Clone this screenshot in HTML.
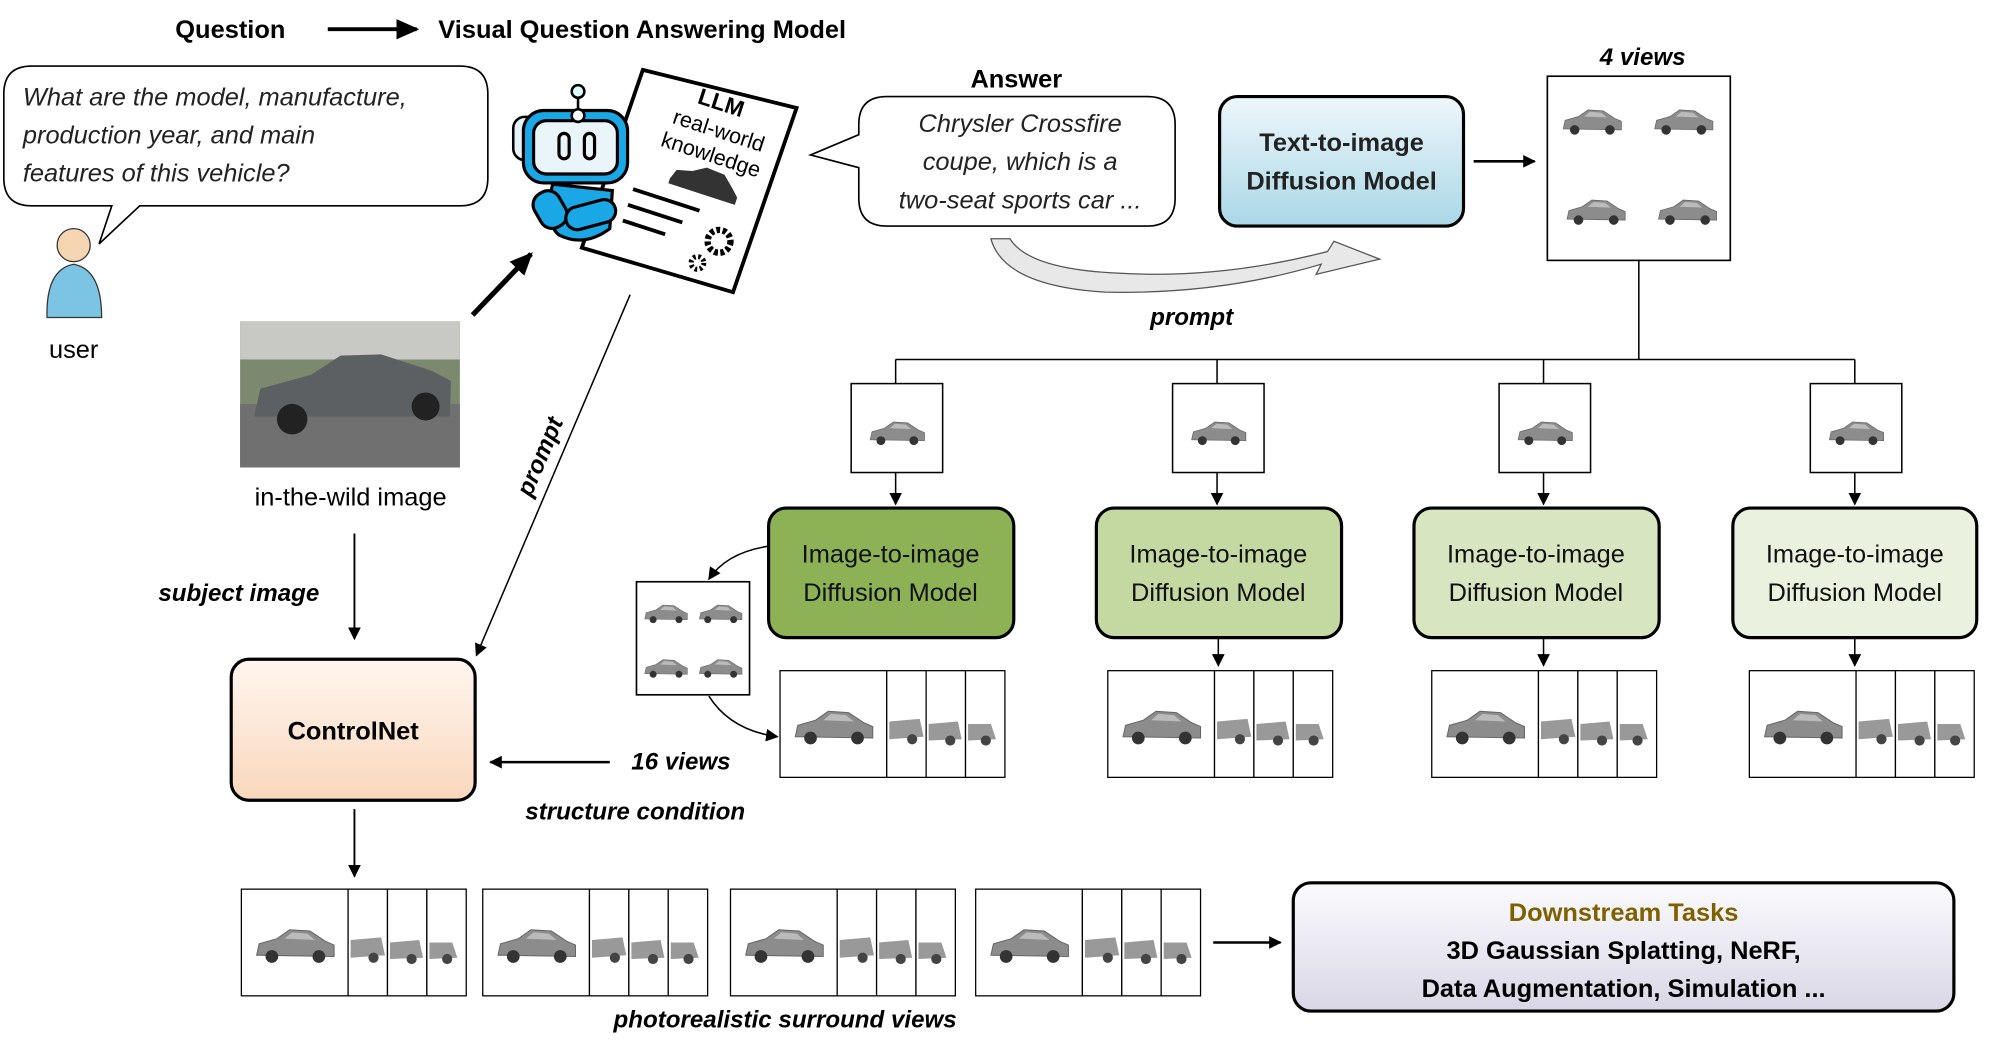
<!DOCTYPE html>
<html><head><meta charset="utf-8"><style>
html,body{margin:0;padding:0;background:#fff;}
svg{display:block;}
text{font-family:"Liberation Sans",sans-serif;}
</style></head><body>
<svg width="1992" height="1053" viewBox="0 0 1568 829" preserveAspectRatio="none" xmlns="http://www.w3.org/2000/svg">
<defs>
<marker id="ah" markerWidth="10" markerHeight="10" refX="9" refY="5" orient="auto" markerUnits="userSpaceOnUse"><path d="M0,0 L10,5 L0,10 z" fill="#000"/></marker>
<marker id="ahb" markerWidth="18" markerHeight="16" refX="16" refY="8" orient="auto" markerUnits="userSpaceOnUse"><path d="M0,0 L18,8 L0,16 z" fill="#000"/></marker>
<linearGradient id="gblue" x1="0" y1="0" x2="0" y2="1"><stop offset="0" stop-color="#eef7fb"/><stop offset="1" stop-color="#a9d7e6"/></linearGradient>
<linearGradient id="gpeach" x1="0" y1="0" x2="0" y2="1"><stop offset="0" stop-color="#fff6ef"/><stop offset="1" stop-color="#f9d7bd"/></linearGradient>
<linearGradient id="ggray" x1="0" y1="0" x2="0" y2="1"><stop offset="0" stop-color="#fbfbfd"/><stop offset="1" stop-color="#d9d6e6"/></linearGradient>
<g id="car"><path d="M-30,6 L-28,-3 L-14,-7 L-4,-14 L12,-13 L24,-5 L31,-2 L31,7 Z" fill="#8c8c8c" stroke="#666" stroke-width="0.8"/><circle cx="-18" cy="7" r="5" fill="#333"/><circle cx="19" cy="7" r="5" fill="#333"/><path d="M-8,-7 L-2,-12 L10,-11 L16,-6 Z" fill="#bbb"/></g>
<g id="stk">
<rect x="0" y="0" width="84" height="84" fill="#fff" stroke="#000" stroke-width="1"/>
<use href="#car" x="42" y="46"/>
<rect x="84" y="0" width="31" height="84" fill="#fff" stroke="#000" stroke-width="1"/>
<path d="M86,40 L110,38 L113,52 L86,54Z" fill="#999"/><circle cx="104" cy="54" r="4" fill="#444"/>
<rect x="115" y="0" width="31" height="84" fill="#fff" stroke="#000" stroke-width="1"/>
<path d="M117,42 L140,40 L143,54 L117,55Z" fill="#999"/><circle cx="134" cy="55" r="4" fill="#444"/>
<rect x="146" y="0" width="31" height="84" fill="#fff" stroke="#000" stroke-width="1"/>
<path d="M148,42 L166,42 L170,54 L148,55Z" fill="#999"/><circle cx="162" cy="55" r="4" fill="#444"/>
</g>
<g id="v4"><rect x="0" y="0" width="72" height="70" fill="#fff" stroke="#000" stroke-width="1.2"/><g transform="translate(36,40) scale(0.7)"><use href="#car"/></g></g>
</defs>

<!-- top title -->
<text x="138" y="30" font-size="20" font-weight="bold">Question</text>
<line x1="258" y1="23" x2="328" y2="23" stroke="#000" stroke-width="3" marker-end="url(#ahb)"/>
<text x="345" y="30" font-size="20" font-weight="bold">Visual Question Answering Model</text>

<!-- question bubble -->
<path d="M25,52 H362 Q384,52 384,74 V140 Q384,162 362,162 H110 L78,192 L88,162 H25 Q3,162 3,140 V74 Q3,52 25,52 Z" fill="#fff" stroke="#000" stroke-width="1.3"/>
<text font-size="20" font-style="italic" fill="#222"><tspan x="18" y="83">What are the model, manufacture,</tspan><tspan x="18" y="113">production year, and main</tspan><tspan x="18" y="143">features of this vehicle?</tspan></text>

<!-- user -->
<circle cx="58" cy="193" r="13" fill="#f6d5b3" stroke="#333"/>
<path d="M37,250 Q36,212 58,208 Q80,212 80,250 Z" fill="#7cc4e3" stroke="#333"/>
<text x="58" y="282" font-size="20" text-anchor="middle">user</text>

<!-- car photo -->
<rect x="189" y="253" width="173" height="115" fill="#7b8a6e"/>
<rect x="189" y="253" width="173" height="30" fill="#c8c9c5"/>
<rect x="189" y="318" width="173" height="50" fill="#707070"/>
<path d="M200,328 L205,306 L245,295 L268,280 L300,279 L340,292 L355,300 L354,328 Z" fill="#5d6063"/>
<circle cx="230" cy="330" r="12" fill="#222"/><circle cx="335" cy="320" r="11" fill="#222"/>
<text x="276" y="398" font-size="20" text-anchor="middle">in-the-wild image</text>
<line x1="372" y1="248" x2="418" y2="200" stroke="#000" stroke-width="4" marker-end="url(#ahb)"/>

<!-- paper -->
<polygon points="506,55 627,85 577,230 458,195" fill="#fff" stroke="#000" stroke-width="3"/>
<g transform="rotate(18 555 120)">
<text x="555" y="85" font-size="18" font-weight="bold" text-anchor="middle" font-family="DejaVu Sans">LLM</text>
<text x="560" y="106" font-size="17" text-anchor="middle" font-family="DejaVu Sans">real-world</text>
<text x="560" y="126" font-size="17" text-anchor="middle" font-family="DejaVu Sans">knowledge</text>
<path d="M535,148 L538,140 L550,137 L560,131 L575,132 L585,141 L590,146 L590,152 L535,152 Z" fill="#333"/>
<line x1="510" y1="165" x2="565" y2="165" stroke="#000" stroke-width="3"/>
<line x1="510" y1="178" x2="555" y2="178" stroke="#000" stroke-width="3"/>
<line x1="510" y1="191" x2="545" y2="191" stroke="#000" stroke-width="3"/>
</g>
<circle cx="566" cy="190" r="9" fill="none" stroke="#000" stroke-width="5" stroke-dasharray="3 2"/>
<circle cx="549" cy="207" r="5" fill="none" stroke="#000" stroke-width="4" stroke-dasharray="2 2"/>
<!-- robot -->
<line x1="455" y1="72" x2="455" y2="90" stroke="#000" stroke-width="2"/>
<circle cx="455" cy="72" r="5" fill="#dff" stroke="#000" stroke-width="2"/>
<rect x="404" y="92" width="20" height="34" rx="9" fill="#e6f3f8" stroke="#000" stroke-width="2"/>
<rect x="412" y="87" width="82" height="57" rx="16" fill="#1aa7e6" stroke="#000" stroke-width="2.5"/>
<rect x="420" y="95" width="66" height="42" rx="10" fill="#eaf5fa" stroke="#000" stroke-width="2.5"/>
<circle cx="455" cy="91" r="5" fill="#fff" stroke="#000" stroke-width="2"/>
<rect x="440" y="105" width="8" height="20" rx="4" fill="none" stroke="#000" stroke-width="2.5"/>
<rect x="460" y="105" width="8" height="20" rx="4" fill="none" stroke="#000" stroke-width="2.5"/>
<path d="M435,145 Q428,175 440,185 Q460,195 480,180 L482,150 Z" fill="#1aa7e6" stroke="#000" stroke-width="2.5"/>
<rect x="422" y="150" width="22" height="30" rx="10" fill="#1aa7e6" stroke="#000" stroke-width="2.5" transform="rotate(-30 433 165)"/>
<rect x="445" y="160" width="40" height="18" rx="9" fill="#1aa7e6" stroke="#000" stroke-width="2.5" transform="rotate(-15 465 169)"/>
<line x1="496" y1="232" x2="375" y2="516" stroke="#000" stroke-width="1.2" marker-end="url(#ah)"/>
<text x="0" y="0" font-size="19" font-weight="bold" font-style="italic" transform="translate(418,392) rotate(-67)">prompt</text>

<!-- answer -->
<text x="800" y="69" font-size="20" font-weight="bold" text-anchor="middle">Answer</text>
<path d="M698,76 H903 Q925,76 925,98 V156 Q925,178 903,178 H698 Q676,178 676,156 V132 L638,122 L676,106 V98 Q676,76 698,76 Z" fill="#fff" stroke="#000" stroke-width="1.3"/>
<text font-size="20" font-style="italic" text-anchor="middle" fill="#222"><tspan x="803" y="104">Chrysler Crossfire</tspan><tspan x="803" y="134">coupe, which is a</tspan><tspan x="803" y="164">two-seat sports car ...</tspan></text>
<!-- curved hollow arrow -->
<path d="M780,188 Q790,225 870,230 Q960,232 1040,208 L1036,216 L1086,204 L1050,190 L1045,198 Q960,220 880,215 Q810,212 795,188 Z" fill="#e8e8e8" stroke="#555" stroke-width="1"/>
<text x="938" y="256" font-size="19" font-weight="bold" font-style="italic" text-anchor="middle">prompt</text>

<!-- T2I -->
<rect x="960" y="76" width="192" height="102" rx="14" fill="url(#gblue)" stroke="#000" stroke-width="2.5"/>
<text font-size="20" font-weight="bold" text-anchor="middle" fill="#222"><tspan x="1056" y="119">Text-to-image</tspan><tspan x="1056" y="149">Diffusion Model</tspan></text>
<line x1="1160" y1="127" x2="1208" y2="127" stroke="#000" stroke-width="2" marker-end="url(#ah)"/>
<text x="1293" y="51" font-size="19" font-weight="bold" font-style="italic" text-anchor="middle">4 views</text>
<rect x="1218" y="60" width="144" height="145" fill="#fff" stroke="#000" stroke-width="1.3"/>
<g transform="translate(1253,97) scale(0.75)"><use href="#car"/></g>
<g transform="translate(1325,97) scale(0.75)"><use href="#car"/></g>
<g transform="translate(1256,168) scale(0.75)"><use href="#car"/></g>
<g transform="translate(1328,168) scale(0.75)"><use href="#car"/></g>

<!-- tree -->
<line x1="1290" y1="205" x2="1290" y2="283" stroke="#000" stroke-width="1.2"/>
<line x1="705" y1="283" x2="1460" y2="283" stroke="#000" stroke-width="1.2"/>
<line x1="705" y1="283" x2="705" y2="302" stroke="#000" stroke-width="1.2"/>
<line x1="958" y1="283" x2="958" y2="302" stroke="#000" stroke-width="1.2"/>
<line x1="1215" y1="283" x2="1215" y2="302" stroke="#000" stroke-width="1.2"/>
<line x1="1460" y1="283" x2="1460" y2="302" stroke="#000" stroke-width="1.2"/>
<use href="#v4" x="670" y="302"/><use href="#v4" x="923" y="302"/><use href="#v4" x="1180" y="302"/><use href="#v4" x="1425" y="302"/>
<line x1="705" y1="372" x2="705" y2="397" stroke="#000" stroke-width="1.2" marker-end="url(#ah)"/>
<line x1="958" y1="372" x2="958" y2="397" stroke="#000" stroke-width="1.2" marker-end="url(#ah)"/>
<line x1="1215" y1="372" x2="1215" y2="397" stroke="#000" stroke-width="1.2" marker-end="url(#ah)"/>
<line x1="1460" y1="372" x2="1460" y2="397" stroke="#000" stroke-width="1.2" marker-end="url(#ah)"/>

<!-- I2I boxes -->
<rect x="605" y="400" width="193" height="102" rx="14" fill="#8db255" stroke="#000" stroke-width="2.5"/>
<rect x="863" y="400" width="193" height="102" rx="14" fill="#c4d9a2" stroke="#000" stroke-width="2.5"/>
<rect x="1113" y="400" width="193" height="102" rx="14" fill="#d7e5c0" stroke="#000" stroke-width="2.5"/>
<rect x="1364" y="400" width="192" height="102" rx="14" fill="#ebf1df" stroke="#000" stroke-width="2.5"/>
<g font-size="20" text-anchor="middle" fill="#111">
<text x="701" y="443">Image-to-image</text><text x="701" y="473">Diffusion Model</text>
<text x="959" y="443">Image-to-image</text><text x="959" y="473">Diffusion Model</text>
<text x="1209" y="443">Image-to-image</text><text x="1209" y="473">Diffusion Model</text>
<text x="1460" y="443">Image-to-image</text><text x="1460" y="473">Diffusion Model</text>
</g>
<line x1="959" y1="502" x2="959" y2="524" stroke="#000" stroke-width="1.2" marker-end="url(#ah)"/>
<line x1="1215" y1="502" x2="1215" y2="524" stroke="#000" stroke-width="1.2" marker-end="url(#ah)"/>
<line x1="1460" y1="502" x2="1460" y2="524" stroke="#000" stroke-width="1.2" marker-end="url(#ah)"/>
<use href="#stk" x="614" y="528"/>
<use href="#stk" x="872" y="528"/>
<use href="#stk" x="1127" y="528"/>
<use href="#stk" x="1377" y="528"/>

<!-- left 4view -->
<rect x="501" y="458" width="89" height="89" fill="#fff" stroke="#000" stroke-width="1.3"/>
<g transform="translate(524,484) scale(0.55)"><use href="#car"/></g>
<g transform="translate(567,484) scale(0.55)"><use href="#car"/></g>
<g transform="translate(524,527) scale(0.55)"><use href="#car"/></g>
<g transform="translate(567,527) scale(0.55)"><use href="#car"/></g>
<path d="M605,430 Q572,435 558,456" fill="none" stroke="#000" stroke-width="1.2" marker-end="url(#ah)"/>
<path d="M558,548 Q575,575 612,580" fill="none" stroke="#000" stroke-width="1.2" marker-end="url(#ah)"/>

<!-- controlnet -->
<line x1="279" y1="420" x2="279" y2="503" stroke="#000" stroke-width="1.5" marker-end="url(#ah)"/>
<text x="188" y="473" font-size="19" font-weight="bold" font-style="italic" text-anchor="middle">subject image</text>
<rect x="182" y="519" width="192" height="111" rx="14" fill="url(#gpeach)" stroke="#000" stroke-width="2.5"/>
<text x="278" y="582" font-size="20" font-weight="bold" text-anchor="middle">ControlNet</text>
<line x1="480" y1="600" x2="386" y2="600" stroke="#000" stroke-width="2" marker-end="url(#ah)"/>
<text x="536" y="606" font-size="19" font-weight="bold" font-style="italic" text-anchor="middle">16 views</text>
<text x="500" y="645" font-size="19" font-weight="bold" font-style="italic" text-anchor="middle">structure condition</text>
<line x1="279" y1="637" x2="279" y2="690" stroke="#000" stroke-width="1.5" marker-end="url(#ah)"/>

<!-- bottom -->
<use href="#stk" x="190" y="700"/>
<use href="#stk" x="380" y="700"/>
<use href="#stk" x="575" y="700"/>
<use href="#stk" x="768" y="700"/>
<text x="618" y="809" font-size="19" font-weight="bold" font-style="italic" text-anchor="middle">photorealistic surround views</text>
<line x1="955" y1="742" x2="1008" y2="742" stroke="#000" stroke-width="2" marker-end="url(#ah)"/>
<rect x="1018" y="695" width="520" height="101" rx="14" fill="url(#ggray)" stroke="#000" stroke-width="2.5"/>
<text x="1278" y="725" font-size="20" font-weight="bold" text-anchor="middle" fill="#7f6000">Downstream Tasks</text>
<text x="1278" y="755" font-size="20" font-weight="bold" text-anchor="middle">3D Gaussian Splatting, NeRF,</text>
<text x="1278" y="785" font-size="20" font-weight="bold" text-anchor="middle">Data Augmentation, Simulation ...</text>
</svg>
</body></html>
